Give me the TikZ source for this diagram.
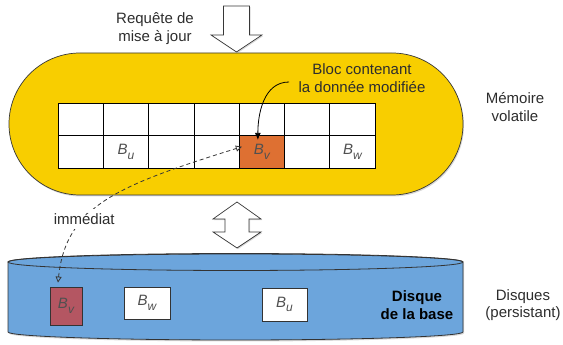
\documentclass[tikz,border=0pt]{standalone}
\usepackage{fontspec}
\setmainfont{Liberation Sans}
\usepackage{tikz}
\usetikzlibrary{arrows.meta,positioning,shadows}

\definecolor{memyellow}{RGB}{248,206,0}
\definecolor{cellorange}{RGB}{222,112,50}
\definecolor{diskblue}{RGB}{108,165,220}
\definecolor{diskred}{RGB}{180,86,98}
\definecolor{linegray}{RGB}{55,55,55}
\definecolor{textgray}{RGB}{45,45,45}
\definecolor{blkgray}{RGB}{80,80,80}

\newcommand{\blk}[1]{{\color{blkgray}\itshape B\raisebox{-0.6ex}{\fontsize{12}{12}\selectfont #1}}}

\begin{document}
\begin{tikzpicture}[x=1pt, y=1pt,
  cellnode/.style={draw=black, fill=white, line width=0.8pt, inner sep=0pt, minimum width=45.3pt, minimum height=32.5pt, font=\fontsize{15}{15}\selectfont},
  diskblock/.style={draw=black!80, line width=0.8pt, inner sep=0pt, font=\fontsize{15}{15}\selectfont,
    drop shadow={shadow xshift=1pt, shadow yshift=-1pt, opacity=0.3}},
  label/.style={text=textgray, align=center, font=\fontsize{15}{17.5}\selectfont},
  bigarrow/.style={draw=linegray, fill=white, line width=0.7pt, line join=miter,
    drop shadow={shadow xshift=1pt, shadow yshift=-1.2pt, opacity=0.3}}]
\useasboundingbox (0,0) rectangle (563,345);

% Volatile memory
\draw[draw=linegray, fill=memyellow, line width=0.7pt, rounded corners=71pt,
  drop shadow={shadow xshift=1pt, shadow yshift=-1.5pt, opacity=0.3}] (9,150) rectangle (463,292);

% Disk
\draw[draw=black!80, fill=diskblue, line width=0.8pt,
  drop shadow={shadow xshift=1pt, shadow yshift=-1.5pt, opacity=0.3}] (8,83) -- (8,13)
  arc[start angle=180, end angle=360, x radius=227.5, y radius=8] -- (463,83)
  arc[start angle=0, end angle=180, x radius=227.5, y radius=8] -- cycle;
\draw[draw=black!80, line width=0.8pt] (235.5,83) ellipse[x radius=227.5, y radius=8.5];

% Big arrows
\draw[bigarrow] (223.5,339) -- (249.5,339) -- (249.5,310) -- (262,310) -- (236.5,293)
  -- (211,310) -- (223.5,310) -- cycle;
\draw[bigarrow] (237,143) -- (261,126) -- (249,126) -- (249,113) -- (261,113) -- (237,97)
  -- (213,113) -- (225,113) -- (225,126) -- (213,126) -- cycle;

% Nodes
\node[cellnode] (c11) at (80.65,225.75) {};
\node[cellnode] (c12) at (125.95,225.75) {};
\node[cellnode] (c13) at (171.25,225.75) {};
\node[cellnode] (c14) at (216.55,225.75) {};
\node[cellnode] (c15) at (261.85,225.75) {};
\node[cellnode] (c16) at (307.15,225.75) {};
\node[cellnode] (c17) at (352.45,225.75) {};
\node[cellnode] (c21) at (80.65,193.25) {};
\node[cellnode] (c22) at (125.95,193.25) {\blk{u}};
\node[cellnode] (c23) at (171.25,193.25) {};
\node[cellnode] (c24) at (216.55,193.25) {};
\node[cellnode, fill=cellorange] (c25) at (261.85,193.25) {\blk{v}};
\node[cellnode] (c26) at (307.15,193.25) {};
\node[cellnode] (c27) at (352.45,193.25) {\blk{w}};

\node[diskblock, fill=diskred, minimum width=32pt, minimum height=38pt] (dv) at (66,39) {\blk{v}};
\node[diskblock, fill=white, minimum width=46pt, minimum height=32pt] (dw) at (147,42) {\blk{w}};
\node[diskblock, fill=white, minimum width=45pt, minimum height=33pt] (du) at (284.5,40.5) {\blk{u}};

\node[label] (req) at (155,316.5) {Requête de\\mise à jour};
\node[label] (bloc) at (362,267) {Bloc contenant\\la donnée modifiée};
\node[label] (mem) at (515,238) {Mémoire\\volatile};
\node[label, font=\bfseries\fontsize{15}{17.5}\selectfont, text=black] (base) at (417,40) {Disque\\de la base};
\node[label] (disks) at (523,40) {Disques\\(persistant)};

% Connectors
\draw[-{Latex[length=7pt, width=6pt]}, line width=0.8pt, black] ([xshift=-6pt, yshift=-4pt]bloc.west)
  to[out=180, in=90] ([xshift=-4pt, yshift=-4pt]c15.south);
\draw[{Triangle[open, length=6pt, width=6pt]}-{Triangle[open, length=6pt, width=6pt]}, linegray,
  line width=0.8pt, dash pattern=on 4pt off 3pt]
  ([xshift=-8pt, yshift=4pt]dv.north) .. controls (66,140) and (120,160) ..
  node[pos=0.35, fill=white, text=textgray, inner sep=4pt, font=\fontsize{15}{15}\selectfont] (imm) {immédiat}
  ([xshift=3pt, yshift=5pt]c25.west);
\end{tikzpicture}
\end{document}
